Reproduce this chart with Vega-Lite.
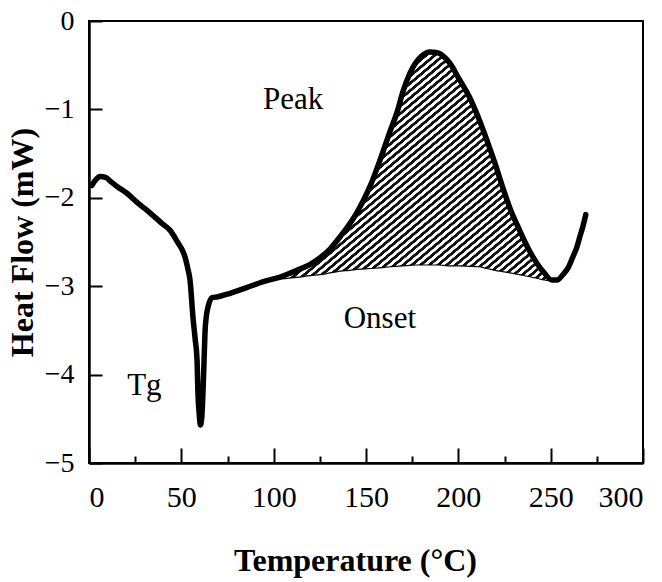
{
  "$schema": "https://vega.github.io/schema/vega-lite/v6.json",
  "autosize": {"type": "none"},
  "padding": {"left": 89, "top": 21, "right": 19, "bottom": 119},
  "width": 554,
  "height": 442,
  "background": "white",
  "view": {"stroke": "black", "strokeWidth": 2},
  "config": {
    "font": "Liberation Serif",
    "axis": {
      "grid": false,
      "domainColor": "black",
      "domainWidth": 2.5,
      "tickColor": "black",
      "tickWidth": 2,
      "labelColor": "black",
      "labelFont": "Liberation Serif",
      "titleColor": "black",
      "titleFont": "Liberation Serif",
      "titleFontWeight": "bold",
      "titleFontSize": 32
    }
  },
  "datasets": {
    "curve": [
      {"T": 1.5, "HF": -1.86}, {"T": 3.5, "HF": -1.80}, {"T": 6, "HF": -1.76}, {"T": 9, "HF": -1.77},
      {"T": 12, "HF": -1.82}, {"T": 15.7, "HF": -1.88}, {"T": 20, "HF": -1.94}, {"T": 26.5, "HF": -2.06},
      {"T": 33, "HF": -2.17}, {"T": 39.5, "HF": -2.29}, {"T": 44, "HF": -2.37}, {"T": 48.2, "HF": -2.51},
      {"T": 50.5, "HF": -2.59}, {"T": 52, "HF": -2.67}, {"T": 53.5, "HF": -2.80}, {"T": 54.7, "HF": -2.93},
      {"T": 56.3, "HF": -3.35}, {"T": 57.5, "HF": -3.60}, {"T": 58.5, "HF": -3.83}, {"T": 59, "HF": -4.21},
      {"T": 59.7, "HF": -4.45}, {"T": 60.3, "HF": -4.57}, {"T": 61, "HF": -4.50}, {"T": 61.7, "HF": -4.21},
      {"T": 62.3, "HF": -3.85}, {"T": 62.8, "HF": -3.53}, {"T": 63.6, "HF": -3.33}, {"T": 64.4, "HF": -3.24},
      {"T": 66.6, "HF": -3.13}, {"T": 69.8, "HF": -3.12}, {"T": 76.4, "HF": -3.08}, {"T": 85, "HF": -3.02},
      {"T": 94, "HF": -2.95}, {"T": 103, "HF": -2.90}, {"T": 112.6, "HF": -2.82}, {"T": 120, "HF": -2.75},
      {"T": 125, "HF": -2.68}, {"T": 130.5, "HF": -2.58}, {"T": 136, "HF": -2.44}, {"T": 141, "HF": -2.30},
      {"T": 145, "HF": -2.17}, {"T": 152, "HF": -1.88}, {"T": 159, "HF": -1.49}, {"T": 163, "HF": -1.25},
      {"T": 166.7, "HF": -1.04}, {"T": 170, "HF": -0.80}, {"T": 173.8, "HF": -0.59}, {"T": 177, "HF": -0.47},
      {"T": 180, "HF": -0.40}, {"T": 184.6, "HF": -0.35}, {"T": 189, "HF": -0.36}, {"T": 192, "HF": -0.40},
      {"T": 195.5, "HF": -0.48}, {"T": 200, "HF": -0.64}, {"T": 206, "HF": -0.86}, {"T": 211, "HF": -1.10},
      {"T": 215.5, "HF": -1.35}, {"T": 220, "HF": -1.62}, {"T": 224, "HF": -1.88}, {"T": 228, "HF": -2.12},
      {"T": 233, "HF": -2.36}, {"T": 238, "HF": -2.58}, {"T": 242.5, "HF": -2.74}, {"T": 246.5, "HF": -2.85},
      {"T": 250.7, "HF": -2.93}, {"T": 253.5, "HF": -2.93}, {"T": 256.6, "HF": -2.87}, {"T": 259.5, "HF": -2.79},
      {"T": 262, "HF": -2.67}, {"T": 264, "HF": -2.57}, {"T": 265.8, "HF": -2.44}, {"T": 267.5, "HF": -2.32},
      {"T": 269, "HF": -2.19}
    ],
    "fill": [
      {"T": 103, "HF": -2.90, "base": -2.92}, {"T": 112.6, "HF": -2.82, "base": -2.90},
      {"T": 120, "HF": -2.75, "base": -2.88}, {"T": 125, "HF": -2.68, "base": -2.87},
      {"T": 130.5, "HF": -2.58, "base": -2.85}, {"T": 136, "HF": -2.44, "base": -2.83},
      {"T": 141, "HF": -2.30, "base": -2.82}, {"T": 145, "HF": -2.17, "base": -2.81},
      {"T": 152, "HF": -1.88, "base": -2.80}, {"T": 159, "HF": -1.49, "base": -2.79},
      {"T": 163, "HF": -1.25, "base": -2.78}, {"T": 166.7, "HF": -1.04, "base": -2.775},
      {"T": 170, "HF": -0.80, "base": -2.77}, {"T": 173.8, "HF": -0.59, "base": -2.765},
      {"T": 177, "HF": -0.47, "base": -2.76}, {"T": 180, "HF": -0.40, "base": -2.76},
      {"T": 184.6, "HF": -0.35, "base": -2.76}, {"T": 189, "HF": -0.36, "base": -2.76},
      {"T": 192, "HF": -0.40, "base": -2.765}, {"T": 195.5, "HF": -0.48, "base": -2.77},
      {"T": 200, "HF": -0.64, "base": -2.77}, {"T": 206, "HF": -0.86, "base": -2.775},
      {"T": 211, "HF": -1.10, "base": -2.78}, {"T": 215.5, "HF": -1.35, "base": -2.80},
      {"T": 220, "HF": -1.62, "base": -2.82}, {"T": 224, "HF": -1.88, "base": -2.835},
      {"T": 228, "HF": -2.12, "base": -2.85}, {"T": 233, "HF": -2.36, "base": -2.87},
      {"T": 238, "HF": -2.58, "base": -2.89}, {"T": 242.5, "HF": -2.74, "base": -2.91},
      {"T": 246.5, "HF": -2.85, "base": -2.93}, {"T": 250.7, "HF": -2.93, "base": -2.94}
    ],
    "labels": [
      {"T": 110.5, "HF": -0.89, "text": "Peak"},
      {"T": 157.5, "HF": -3.37, "text": "Onset"},
      {"T": 30, "HF": -4.13, "text": "Tg"}
    ]
  },
  "layer": [
    {
      "data": {"name": "fill"},
      "mark": {
        "type": "area",
        "interpolate": "monotone",
        "fill": {
          "gradient": "linear", "x1": 0, "y1": 0, "x2": 1, "y2": 1,
          "stops": [
            {"offset": 0.000, "color": "#fff"}, {"offset": 0.001, "color": "#111"}, {"offset": 0.008, "color": "#111"}, {"offset": 0.009, "color": "#fff"},
            {"offset": 0.016, "color": "#fff"}, {"offset": 0.017, "color": "#111"}, {"offset": 0.024, "color": "#111"}, {"offset": 0.025, "color": "#fff"},
            {"offset": 0.032, "color": "#fff"}, {"offset": 0.033, "color": "#111"}, {"offset": 0.040, "color": "#111"}, {"offset": 0.041, "color": "#fff"},
            {"offset": 0.048, "color": "#fff"}, {"offset": 0.049, "color": "#111"}, {"offset": 0.056, "color": "#111"}, {"offset": 0.057, "color": "#fff"},
            {"offset": 0.064, "color": "#fff"}, {"offset": 0.065, "color": "#111"}, {"offset": 0.072, "color": "#111"}, {"offset": 0.073, "color": "#fff"},
            {"offset": 0.080, "color": "#fff"}, {"offset": 0.081, "color": "#111"}, {"offset": 0.088, "color": "#111"}, {"offset": 0.089, "color": "#fff"},
            {"offset": 0.096, "color": "#fff"}, {"offset": 0.097, "color": "#111"}, {"offset": 0.104, "color": "#111"}, {"offset": 0.105, "color": "#fff"},
            {"offset": 0.112, "color": "#fff"}, {"offset": 0.113, "color": "#111"}, {"offset": 0.120, "color": "#111"}, {"offset": 0.121, "color": "#fff"},
            {"offset": 0.128, "color": "#fff"}, {"offset": 0.129, "color": "#111"}, {"offset": 0.136, "color": "#111"}, {"offset": 0.137, "color": "#fff"},
            {"offset": 0.144, "color": "#fff"}, {"offset": 0.145, "color": "#111"}, {"offset": 0.152, "color": "#111"}, {"offset": 0.153, "color": "#fff"},
            {"offset": 0.160, "color": "#fff"}, {"offset": 0.161, "color": "#111"}, {"offset": 0.168, "color": "#111"}, {"offset": 0.169, "color": "#fff"},
            {"offset": 0.176, "color": "#fff"}, {"offset": 0.177, "color": "#111"}, {"offset": 0.184, "color": "#111"}, {"offset": 0.185, "color": "#fff"},
            {"offset": 0.192, "color": "#fff"}, {"offset": 0.193, "color": "#111"}, {"offset": 0.200, "color": "#111"}, {"offset": 0.201, "color": "#fff"},
            {"offset": 0.208, "color": "#fff"}, {"offset": 0.209, "color": "#111"}, {"offset": 0.216, "color": "#111"}, {"offset": 0.217, "color": "#fff"},
            {"offset": 0.224, "color": "#fff"}, {"offset": 0.225, "color": "#111"}, {"offset": 0.232, "color": "#111"}, {"offset": 0.233, "color": "#fff"},
            {"offset": 0.240, "color": "#fff"}, {"offset": 0.241, "color": "#111"}, {"offset": 0.248, "color": "#111"}, {"offset": 0.249, "color": "#fff"},
            {"offset": 0.256, "color": "#fff"}, {"offset": 0.257, "color": "#111"}, {"offset": 0.264, "color": "#111"}, {"offset": 0.265, "color": "#fff"},
            {"offset": 0.272, "color": "#fff"}, {"offset": 0.273, "color": "#111"}, {"offset": 0.280, "color": "#111"}, {"offset": 0.281, "color": "#fff"},
            {"offset": 0.288, "color": "#fff"}, {"offset": 0.289, "color": "#111"}, {"offset": 0.296, "color": "#111"}, {"offset": 0.297, "color": "#fff"},
            {"offset": 0.304, "color": "#fff"}, {"offset": 0.305, "color": "#111"}, {"offset": 0.312, "color": "#111"}, {"offset": 0.313, "color": "#fff"},
            {"offset": 0.320, "color": "#fff"}, {"offset": 0.321, "color": "#111"}, {"offset": 0.328, "color": "#111"}, {"offset": 0.329, "color": "#fff"},
            {"offset": 0.336, "color": "#fff"}, {"offset": 0.337, "color": "#111"}, {"offset": 0.344, "color": "#111"}, {"offset": 0.345, "color": "#fff"},
            {"offset": 0.352, "color": "#fff"}, {"offset": 0.353, "color": "#111"}, {"offset": 0.360, "color": "#111"}, {"offset": 0.361, "color": "#fff"},
            {"offset": 0.368, "color": "#fff"}, {"offset": 0.369, "color": "#111"}, {"offset": 0.376, "color": "#111"}, {"offset": 0.377, "color": "#fff"},
            {"offset": 0.384, "color": "#fff"}, {"offset": 0.385, "color": "#111"}, {"offset": 0.392, "color": "#111"}, {"offset": 0.393, "color": "#fff"},
            {"offset": 0.400, "color": "#fff"}, {"offset": 0.401, "color": "#111"}, {"offset": 0.408, "color": "#111"}, {"offset": 0.409, "color": "#fff"},
            {"offset": 0.416, "color": "#fff"}, {"offset": 0.417, "color": "#111"}, {"offset": 0.424, "color": "#111"}, {"offset": 0.425, "color": "#fff"},
            {"offset": 0.432, "color": "#fff"}, {"offset": 0.433, "color": "#111"}, {"offset": 0.440, "color": "#111"}, {"offset": 0.441, "color": "#fff"},
            {"offset": 0.448, "color": "#fff"}, {"offset": 0.449, "color": "#111"}, {"offset": 0.456, "color": "#111"}, {"offset": 0.457, "color": "#fff"},
            {"offset": 0.464, "color": "#fff"}, {"offset": 0.465, "color": "#111"}, {"offset": 0.472, "color": "#111"}, {"offset": 0.473, "color": "#fff"},
            {"offset": 0.480, "color": "#fff"}, {"offset": 0.481, "color": "#111"}, {"offset": 0.488, "color": "#111"}, {"offset": 0.489, "color": "#fff"},
            {"offset": 0.496, "color": "#fff"}, {"offset": 0.497, "color": "#111"}, {"offset": 0.504, "color": "#111"}, {"offset": 0.505, "color": "#fff"},
            {"offset": 0.512, "color": "#fff"}, {"offset": 0.513, "color": "#111"}, {"offset": 0.520, "color": "#111"}, {"offset": 0.521, "color": "#fff"},
            {"offset": 0.528, "color": "#fff"}, {"offset": 0.529, "color": "#111"}, {"offset": 0.536, "color": "#111"}, {"offset": 0.537, "color": "#fff"},
            {"offset": 0.544, "color": "#fff"}, {"offset": 0.545, "color": "#111"}, {"offset": 0.552, "color": "#111"}, {"offset": 0.553, "color": "#fff"},
            {"offset": 0.560, "color": "#fff"}, {"offset": 0.561, "color": "#111"}, {"offset": 0.568, "color": "#111"}, {"offset": 0.569, "color": "#fff"},
            {"offset": 0.576, "color": "#fff"}, {"offset": 0.577, "color": "#111"}, {"offset": 0.584, "color": "#111"}, {"offset": 0.585, "color": "#fff"},
            {"offset": 0.592, "color": "#fff"}, {"offset": 0.593, "color": "#111"}, {"offset": 0.600, "color": "#111"}, {"offset": 0.601, "color": "#fff"},
            {"offset": 0.608, "color": "#fff"}, {"offset": 0.609, "color": "#111"}, {"offset": 0.616, "color": "#111"}, {"offset": 0.617, "color": "#fff"},
            {"offset": 0.624, "color": "#fff"}, {"offset": 0.625, "color": "#111"}, {"offset": 0.632, "color": "#111"}, {"offset": 0.633, "color": "#fff"},
            {"offset": 0.640, "color": "#fff"}, {"offset": 0.641, "color": "#111"}, {"offset": 0.648, "color": "#111"}, {"offset": 0.649, "color": "#fff"},
            {"offset": 0.656, "color": "#fff"}, {"offset": 0.657, "color": "#111"}, {"offset": 0.664, "color": "#111"}, {"offset": 0.665, "color": "#fff"},
            {"offset": 0.672, "color": "#fff"}, {"offset": 0.673, "color": "#111"}, {"offset": 0.680, "color": "#111"}, {"offset": 0.681, "color": "#fff"},
            {"offset": 0.688, "color": "#fff"}, {"offset": 0.689, "color": "#111"}, {"offset": 0.696, "color": "#111"}, {"offset": 0.697, "color": "#fff"},
            {"offset": 0.704, "color": "#fff"}, {"offset": 0.705, "color": "#111"}, {"offset": 0.712, "color": "#111"}, {"offset": 0.713, "color": "#fff"},
            {"offset": 0.720, "color": "#fff"}, {"offset": 0.721, "color": "#111"}, {"offset": 0.728, "color": "#111"}, {"offset": 0.729, "color": "#fff"},
            {"offset": 0.736, "color": "#fff"}, {"offset": 0.737, "color": "#111"}, {"offset": 0.744, "color": "#111"}, {"offset": 0.745, "color": "#fff"},
            {"offset": 0.752, "color": "#fff"}, {"offset": 0.753, "color": "#111"}, {"offset": 0.760, "color": "#111"}, {"offset": 0.761, "color": "#fff"},
            {"offset": 0.768, "color": "#fff"}, {"offset": 0.769, "color": "#111"}, {"offset": 0.776, "color": "#111"}, {"offset": 0.777, "color": "#fff"},
            {"offset": 0.784, "color": "#fff"}, {"offset": 0.785, "color": "#111"}, {"offset": 0.792, "color": "#111"}, {"offset": 0.793, "color": "#fff"},
            {"offset": 0.800, "color": "#fff"}, {"offset": 0.801, "color": "#111"}, {"offset": 0.808, "color": "#111"}, {"offset": 0.809, "color": "#fff"},
            {"offset": 0.816, "color": "#fff"}, {"offset": 0.817, "color": "#111"}, {"offset": 0.824, "color": "#111"}, {"offset": 0.825, "color": "#fff"},
            {"offset": 0.832, "color": "#fff"}, {"offset": 0.833, "color": "#111"}, {"offset": 0.840, "color": "#111"}, {"offset": 0.841, "color": "#fff"},
            {"offset": 0.848, "color": "#fff"}, {"offset": 0.849, "color": "#111"}, {"offset": 0.856, "color": "#111"}, {"offset": 0.857, "color": "#fff"},
            {"offset": 0.864, "color": "#fff"}, {"offset": 0.865, "color": "#111"}, {"offset": 0.872, "color": "#111"}, {"offset": 0.873, "color": "#fff"},
            {"offset": 0.880, "color": "#fff"}, {"offset": 0.881, "color": "#111"}, {"offset": 0.888, "color": "#111"}, {"offset": 0.889, "color": "#fff"},
            {"offset": 0.896, "color": "#fff"}, {"offset": 0.897, "color": "#111"}, {"offset": 0.904, "color": "#111"}, {"offset": 0.905, "color": "#fff"},
            {"offset": 0.912, "color": "#fff"}, {"offset": 0.913, "color": "#111"}, {"offset": 0.920, "color": "#111"}, {"offset": 0.921, "color": "#fff"},
            {"offset": 0.928, "color": "#fff"}, {"offset": 0.929, "color": "#111"}, {"offset": 0.936, "color": "#111"}, {"offset": 0.937, "color": "#fff"},
            {"offset": 0.944, "color": "#fff"}, {"offset": 0.945, "color": "#111"}, {"offset": 0.952, "color": "#111"}, {"offset": 0.953, "color": "#fff"},
            {"offset": 0.960, "color": "#fff"}, {"offset": 0.961, "color": "#111"}, {"offset": 0.968, "color": "#111"}, {"offset": 0.969, "color": "#fff"},
            {"offset": 0.976, "color": "#fff"}, {"offset": 0.977, "color": "#111"}, {"offset": 0.984, "color": "#111"}, {"offset": 0.985, "color": "#fff"},
            {"offset": 1.000, "color": "#fff"}
          ]
        }
      },
      "encoding": {
        "x": {
          "field": "T", "type": "quantitative",
          "scale": {"domain": [0, 300], "nice": false, "zero": false},
          "title": "Temperature (°C)",
          "axis": {
            "values": [0, 25, 50, 75, 100, 125, 150, 175, 200, 225, 250, 275, 300],
            "format": "d",
            "labelExpr": "datum.value % 50 === 0 ? datum.label : ''",
            "tickSize": {"condition": {"test": "datum.value % 50 === 0", "value": -15}, "value": -7},
            "labelFontSize": 30,
            "labelPadding": 34,
            "titlePadding": 33,
            "titleX": 266
          }
        },
        "y": {
          "field": "HF", "type": "quantitative",
          "scale": {"domain": [-5, 0], "nice": false, "zero": false},
          "title": "Heat Flow (mW)",
          "axis": {
            "values": [-5, -4.5, -4, -3.5, -3, -2.5, -2, -1.5, -1, -0.5, 0],
            "format": "d",
            "labelExpr": "datum.value % 1 === 0 ? datum.label : ''",
            "tickSize": {"condition": {"test": "datum.value % 1 === 0", "value": -13}, "value": -8},
            "labelFontSize": 28,
            "labelPadding": 28,
            "titlePadding": 5
          }
        },
        "y2": {"field": "base"}
      }
    },
    {
      "data": {"name": "fill"},
      "mark": {"type": "line", "color": "black", "strokeWidth": 1.2, "interpolate": "monotone"},
      "encoding": {
        "x": {"field": "T", "type": "quantitative", "title": "Temperature (°C)"},
        "y": {"field": "base", "type": "quantitative", "title": "Heat Flow (mW)"}
      }
    },
    {
      "data": {"name": "curve"},
      "mark": {"type": "line", "color": "black", "strokeWidth": 5.5, "strokeJoin": "round", "strokeCap": "round", "interpolate": "monotone"},
      "encoding": {
        "x": {"field": "T", "type": "quantitative", "title": "Temperature (°C)"},
        "y": {"field": "HF", "type": "quantitative", "title": "Heat Flow (mW)"}
      }
    },
    {
      "data": {"name": "labels"},
      "mark": {"type": "text", "font": "Liberation Serif", "fontSize": 31, "color": "black", "align": "center", "baseline": "middle"},
      "encoding": {
        "x": {"field": "T", "type": "quantitative", "title": "Temperature (°C)"},
        "y": {"field": "HF", "type": "quantitative", "title": "Heat Flow (mW)"},
        "text": {"field": "text"}
      }
    }
  ]
}
